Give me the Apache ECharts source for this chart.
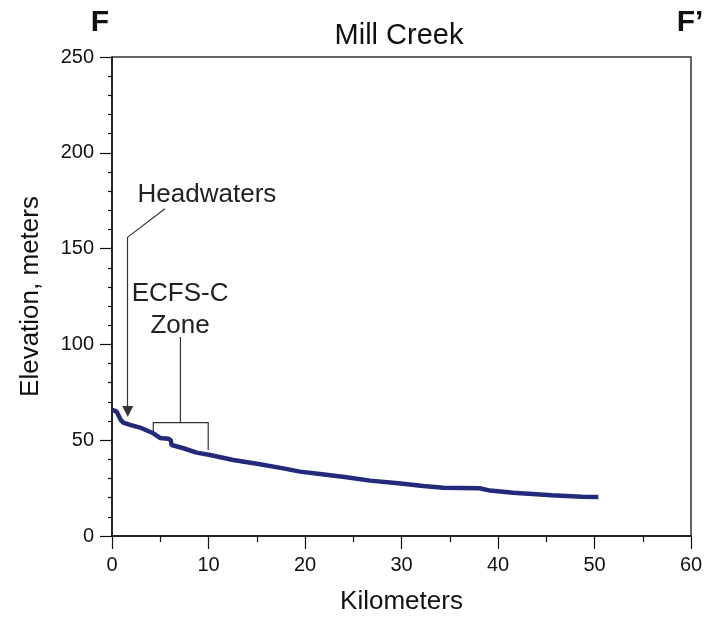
<!DOCTYPE html>
<html>
<head>
<meta charset="utf-8">
<script src="https://cdn.jsdelivr.net/npm/echarts@6/dist/echarts.min.js"></script>
<style>
  html, body { margin: 0; padding: 0; background: #fff; }
  #main { width: 706px; height: 620px; }
</style>
</head>
<body>
<div id="main"></div>
<script>
// profile (km, elevation m)
const kmValues = [0.03, 0.49, 0.66, 0.9, 1.17, 1.87, 2.9, 4.28, 4.97, 5.84, 6.08, 6.18, 7.4, 8.77,
  10.16, 12.57, 15.33, 17.75, 19.48, 21.55, 24.32, 26.74, 29.67, 32.26, 34.33, 38.1, 39.17,
  41.58, 45.56, 48.67, 50.4]
const elevValues = [65.8, 64.9, 64.1, 60.6, 59.2, 58.0, 56.6, 53.6, 51.2, 50.7, 50.1, 47.5, 45.8, 43.5,
  42.3, 39.7, 37.4, 35.3, 33.6, 32.4, 30.7, 28.9, 27.5, 26.1, 25.2, 24.9, 23.7,
  22.6, 21.3, 20.5, 20.4]

// annotations, in data units
const headwatersLeader = [[5.49, 170.8], [1.63, 156]]
const headwatersArrow = [[1.63, 156], [1.63, 65]]
const zoneBracket = [[4.28, 52.8], [4.28, 59.2], [9.97, 59.2], [9.97, 44.9]]
const zoneStem = [[7.09, 59.2], [7.09, 103.9]]
const noteLabels = [
  { text: 'Headwaters', at: [9.84, 178] },
  { text: 'ECFS-C\nZone', at: [7.05, 118] },
]

const xTicks = { min: 0, max: 60, step: 10 }
const yTicks = { min: 0, max: 250, step: 50 }

const font = 'Liberation Sans, Arial, sans-serif'
const ink = '#111'
const noteInk = '#333'

const chart = echarts.init(document.getElementById('main'), null, { renderer: 'canvas' })

const noteLine = { color: noteInk, width: 1.2, opacity: 1 }

const option = {
  animation: false,
  backgroundColor: '#fff',
  grid: {
    left: 112, right: 15, top: 57, bottom: 84,
    show: true, borderColor: '#333', borderWidth: 1.5,
  },
  graphic: [
    { type: 'text', x: 399, y: 36, style: { text: 'Mill Creek', font: '29px ' + font, fill: ink, align: 'center', verticalAlign: 'middle' } },
    { type: 'text', x: 100, y: 23, style: { text: 'F', font: 'bold 30px ' + font, fill: ink, align: 'center', verticalAlign: 'middle' } },
    { type: 'text', x: 690, y: 23, style: { text: 'F\u2019', font: 'bold 30px ' + font, fill: ink, align: 'center', verticalAlign: 'middle' } },
  ],
  xAxis: {
    type: 'value',
    min: xTicks.min, max: xTicks.max, interval: xTicks.step,
    name: 'Kilometers', nameLocation: 'middle', nameGap: 53,
    nameTextStyle: { fontFamily: font, fontSize: 26, color: ink },
    axisLine: { show: true, onZero: false, lineStyle: { color: ink, width: 1.5 } },
    axisTick: { show: true, length: 13, lineStyle: { color: ink, width: 1.2 } },
    minorTick: { show: true, splitNumber: 2, length: 6, lineStyle: { color: ink, width: 1.2 } },
    axisLabel: { fontFamily: font, fontSize: 20, color: ink, margin: 19 },
    splitLine: { show: false },
  },
  yAxis: {
    type: 'value',
    min: yTicks.min, max: yTicks.max, interval: yTicks.step,
    name: 'Elevation, meters', nameLocation: 'middle', nameGap: 68,
    nameTextStyle: { fontFamily: font, fontSize: 26, color: ink },
    axisLine: { show: true, onZero: false, lineStyle: { color: ink, width: 1.5 } },
    axisTick: { show: true, length: 12, lineStyle: { color: ink, width: 1.2 } },
    minorTick: { show: true, splitNumber: 5, length: 4, lineStyle: { color: ink, width: 1.2 } },
    axisLabel: { fontFamily: font, fontSize: 20, color: ink, margin: 18 },
    splitLine: { show: false },
  },
  series: [
    {
      name: 'Mill Creek',
      type: 'line',
      data: kmValues.map((k, i) => [k, elevValues[i]]),
      symbol: 'none',
      lineStyle: { color: '#242a7a', width: 4.5 },
      z: 5,
    },
    {
      type: 'lines',
      coordinateSystem: 'cartesian2d',
      symbol: 'none',
      lineStyle: noteLine,
      data: [{ coords: headwatersLeader }],
      z: 4,
    },
    {
      type: 'lines',
      coordinateSystem: 'cartesian2d',
      symbol: ['none', 'triangle'],
      symbolSize: [0, 11],
      lineStyle: noteLine,
      itemStyle: { color: noteInk, opacity: 1 },
      data: [{ coords: headwatersArrow }],
      z: 4,
    },
    {
      type: 'lines',
      coordinateSystem: 'cartesian2d',
      polyline: true,
      symbol: 'none',
      lineStyle: noteLine,
      data: [{ coords: zoneBracket }, { coords: zoneStem }],
      z: 4,
    },
    {
      type: 'scatter',
      symbolSize: 0,
      silent: true,
      itemStyle: { opacity: 1 },
      data: noteLabels.map(n => ({ value: n.at, label: { formatter: n.text } })),
      label: {
        show: true, position: 'inside',
        fontFamily: font, fontSize: 26, color: '#222', lineHeight: 32, align: 'center',
      },
      z: 6,
    },
  ],
}

chart.setOption(option)
</script>
</body>
</html>
